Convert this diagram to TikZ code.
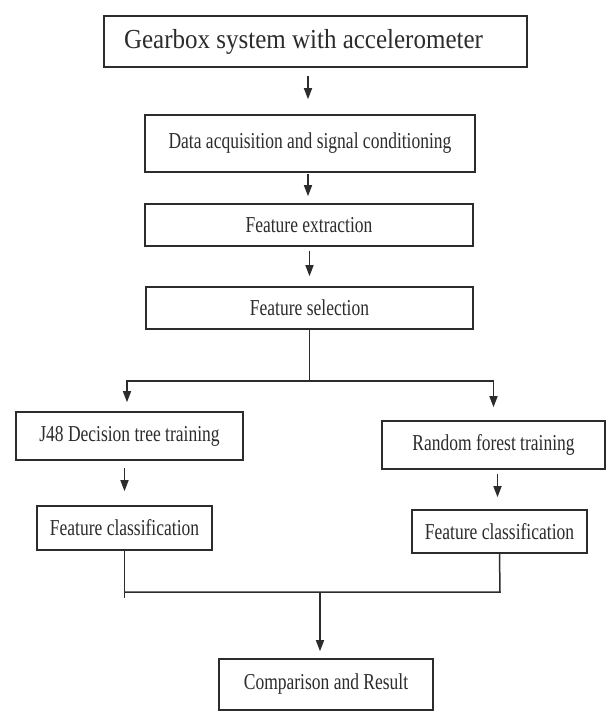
\documentclass[tikz,border=0pt]{standalone}
\usepackage{fontspec}
\usepackage{graphicx}
\setmainfont{Liberation Serif}
\usetikzlibrary{arrows.meta}
\definecolor{ink}{HTML}{2c2c2c}
\newcommand\boxtext[1]{\scalebox{1}[1.3]{\fontsize{17.5}{20}\selectfont #1}}
\begin{document}
\begin{tikzpicture}[x=1pt,y=-1pt,
  box/.style={draw=ink, line width=1.6pt, fill=white, inner sep=0pt, text=ink},
  conn/.style={draw=ink, line width=1.5pt},
  arr/.style={conn, -{Triangle[length=11pt,width=8pt]}}]
\useasboundingbox (0,0) rectangle (607,713);
\fill[white] (0,0) rectangle (607,713);

\node[box, minimum width=423pt, minimum height=51pt] (gear) at (315.5,41.5)
  {\scalebox{1}[1.1]{\fontsize{25}{28}\selectfont Gearbox system with accelerometer}\kern24pt};
\node[box, minimum width=330pt, minimum height=57pt] (daq) at (310,143.5)
  {\boxtext{Data acquisition and signal conditioning}};
\node[box, minimum width=328pt, minimum height=42pt] (fext) at (309,225)
  {\boxtext{Feature extraction}};
\node[box, minimum width=327pt, minimum height=42pt] (fsel) at (309.5,308)
  {\boxtext{Feature selection}};
\node[box, minimum width=227pt, minimum height=48pt] (j48) at (129.5,436)
  {\boxtext{J48 Decision tree training}};
\node[box, minimum width=223pt, minimum height=48pt] (rf) at (493.5,445)
  {\boxtext{Random forest training}};
\node[box, minimum width=175pt, minimum height=44pt] (fc1) at (124.5,528)
  {\boxtext{Feature classification}};
\node[box, minimum width=175pt, minimum height=43pt] (fc2) at (499.5,531.5)
  {\boxtext{Feature classification}};
\node[box, minimum width=214pt, minimum height=51pt] (comp) at (326,684.5)
  {\boxtext{Comparison and Result}};

% straight chain
\draw[arr, shorten <=8pt, shorten >=15pt] ([xshift=-2pt]daq.north |- gear.south) -- ([xshift=-2pt]daq.north);
\draw[arr, shorten <=1pt, shorten >=7pt] ([xshift=-1pt]fext.north |- daq.south) -- ([xshift=-1pt]fext.north);
\draw[arr, shorten <=4pt, shorten >=10pt] (fsel.north |- fext.south) -- (fsel.north);

% split
\coordinate (sp) at (309.5,381);
\draw[conn] (fsel.south) -- (sp);
\draw[arr, shorten >=9pt] (sp) -| ([xshift=-2.5pt]j48.north);
\draw[arr, shorten >=13pt] (sp) -| (rf.north);

\draw[arr, shorten <=7pt, shorten >=14pt] (fc1.north |- j48.south) -- (fc1.north);
\draw[arr, shorten <=4pt, shorten >=12pt] ([xshift=-2pt]fc2.north |- rf.south) -- ([xshift=-2pt]fc2.north);

% merge
\coordinate (mg) at (320,592);
\coordinate (mgl) at (124.5,592);
\coordinate (mgr) at (500,592);
\draw[conn] (fc1.south) -- ([yshift=-6pt]mgl);
\draw[conn] (fc2.south) -- (mgr) -- (mgl);
\draw[arr, shorten >=7pt] (mg) -- (mg |- comp.north);
\end{tikzpicture}
\end{document}
